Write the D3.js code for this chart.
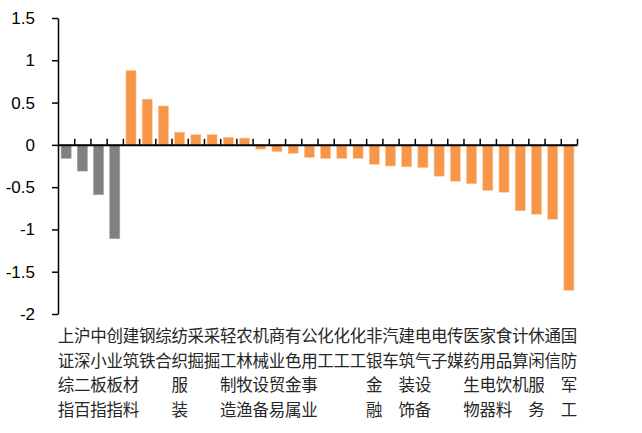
<!DOCTYPE html>
<html>
<head>
<meta charset="utf-8">
<script src="https://cdn.jsdelivr.net/npm/d3@7"></script>
<style>
  body { margin: 0; background: #fff; }
  .axis path, .axis line { stroke: #000; }
</style>
</head>
<body>
<div id="chart"></div>
<script>
const categories = [
  "上证综指", "沪深二百", "中小板指", "创业板指",
  "建筑材料", "钢铁", "综合", "纺织服装", "采掘", "采掘",
  "轻工制造", "农林牧渔", "机械设备", "商业贸易", "有色金属", "公用事业",
  "化工", "化工", "化工", "非银金融", "汽车", "建筑装饰", "电气设备", "电子",
  "传媒", "医药生物", "家用电器", "食品饮料", "计算机", "休闲服务", "通信", "国防军工"
];
const values = [
  -0.16, -0.31, -0.59, -1.11,
  0.88, 0.54, 0.46, 0.15, 0.12, 0.12, 0.09, 0.08,
  -0.05, -0.08, -0.10, -0.15, -0.16, -0.16, -0.16, -0.23, -0.25, -0.26, -0.27,
  -0.37, -0.43, -0.46, -0.54, -0.56, -0.78, -0.82, -0.88, -1.72
];
const index_count = 4;
const y_ticks = [1.5, 1, 0.5, 0, -0.5, -1, -1.5, -2];

let graph_config = {
  width: 642,
  height: 433,
  margin: { left: 58, right: 65, top: 18, bottom: 119 }
};
let { width, height, margin } = graph_config;
let inner_w = width - margin.left - margin.right;
let inner_h = height - margin.top - margin.bottom;

let svg = d3.select("#chart").append("svg")
  .attr("width", width)
  .attr("height", height);
let g = svg.append("g")
  .attr("transform", "translate(" + margin.left + "," + margin.top + ")");

let y_scale = d3.scaleLinear().domain([-2, 1.5]).range([inner_h, 0]);
let x_scale = d3.scaleBand()
  .domain(d3.range(categories.length))
  .range([0, inner_w])
  .paddingInner(0.38)
  .paddingOuter(0.19);
// boundaries between categories for the tick marks on the zero line
let edge_scale = d3.scaleLinear().domain([0, categories.length]).range([0, inner_w]);

// bars
g.selectAll(".bar")
  .data(values)
  .enter()
  .append("rect")
  .attr("class", "bar")
  .attr("x", (d, i) => x_scale(i))
  .attr("width", x_scale.bandwidth())
  .attr("y", d => y_scale(Math.max(0, d)))
  .attr("height", d => Math.abs(y_scale(d) - y_scale(0)))
  .attr("fill", (d, i) => (i < index_count ? "#808080" : "#F79646"))
  .attr("stroke", (d, i) => (i < index_count ? "#a6a6a6" : "#fbc89e"))
  .attr("stroke-width", 0.6);

// y axis, plain numbers with ascii minus like the original
let y_axis = g.append("g")
  .attr("class", "axis")
  .call(d3.axisLeft(y_scale)
    .tickValues(y_ticks)
    .tickFormat(d => String(d))
    .tickSize(6)
    .tickSizeOuter(0)
    .tickPadding(17));
y_axis.select(".domain").attr("stroke-width", 1.5);
y_axis.selectAll(".tick line").attr("stroke-width", 1.5);
y_axis.selectAll("text")
  .attr("font-family", "Liberation Sans, Arial, sans-serif")
  .attr("font-size", 17)
  .attr("fill", "#000");

// zero line with upward ticks
let x_axis = g.append("g")
  .attr("class", "axis")
  .attr("transform", "translate(0," + y_scale(0) + ")")
  .call(d3.axisBottom(edge_scale).tickValues(d3.range(1, categories.length + 1)).tickSize(-6).tickSizeOuter(0).tickFormat(""));
x_axis.select(".domain").attr("stroke-width", 2);
x_axis.selectAll(".tick line").attr("stroke-width", 1.5);

// vertical category labels, one character per row
let label_g = g.append("g")
  .attr("transform", "translate(0," + inner_h + ")");
categories.forEach((name, i) => {
  let chars = Array.from(name);
  label_g.append("g")
    .selectAll("text")
    .data(chars)
    .enter()
    .append("text")
    .attr("x", x_scale(i) + x_scale.bandwidth() / 2)
    .attr("y", (c, j) => 28 + j * 24.6)
    .attr("text-anchor", "middle")
    .attr("font-family", "Noto Sans CJK SC, sans-serif")
    .attr("font-size", 16.5)
    .attr("fill", "#262626")
    .text(c => c);
});
</script>
</body>
</html>
